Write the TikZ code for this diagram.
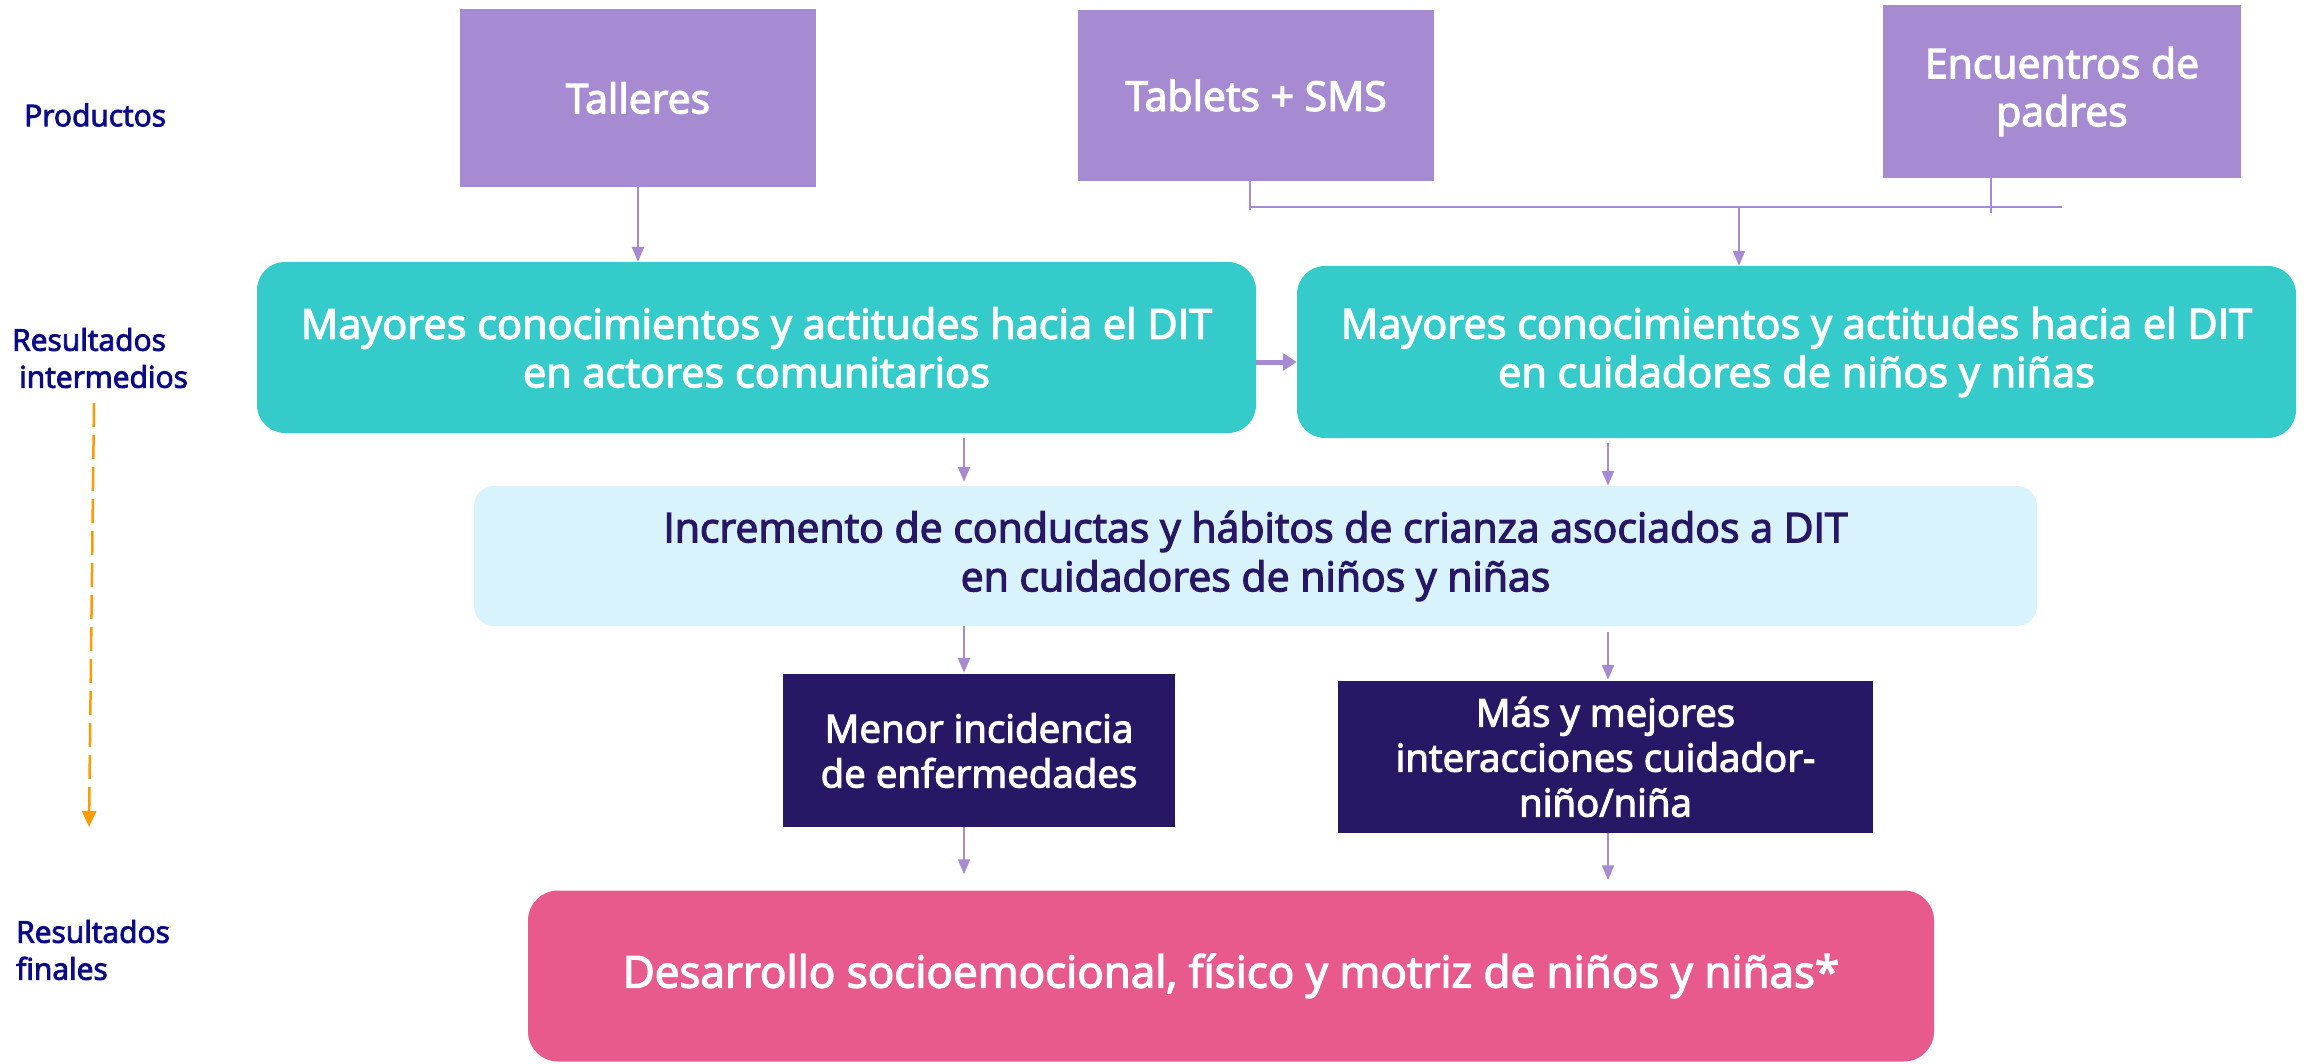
\documentclass[tikz,border=0pt]{standalone}
\usepackage{fontspec}
\setmainfont{Open Sans}[FakeBold=3]
\usetikzlibrary{arrows.meta,calc}
\definecolor{lila}{HTML}{A68BD3}
\definecolor{teal2}{HTML}{35CBCB}
\definecolor{celeste}{HTML}{D8F3FB}
\definecolor{indigo2}{HTML}{281764}
\definecolor{rosa}{HTML}{E95A8C}
\definecolor{navy2}{HTML}{0B0B85}
\definecolor{naranja}{HTML}{FF9A00}
\tikzset{
  prodbox/.style={fill=lila,draw=none,text=white,align=center,inner sep=0pt,
    font=\fontsize{41}{48}\selectfont},
  tealbox/.style={fill=teal2,draw=none,text=white,align=center,rounded corners=28pt,inner sep=0pt,
    minimum width=999pt,font=\fontsize{41.5}{48.5}\selectfont},
  lightbox/.style={fill=celeste,draw=none,text=indigo2,align=center,rounded corners=20pt,inner sep=0pt,
    font=\fontsize{41}{49}\selectfont},
  darkbox/.style={fill=indigo2,draw=none,text=white,align=center,inner sep=0pt,
    font=\fontsize{38.5}{45}\selectfont},
  pinkbox/.style={fill=rosa,draw=none,text=white,align=center,rounded corners=30pt,inner sep=0pt,
    font=\fontsize{44}{50}\selectfont},
  sidelabel/.style={text=navy2,align=left,anchor=west,inner sep=0pt,
    font=\fontsize{30}{37}\selectfont},
  arr/.style={draw=lila,line width=2.5pt,-{Triangle[length=15pt,width=12pt]}},
  bigarr/.style={draw=lila,line width=5pt,-{Triangle[length=14pt,width=17pt]}},
  joinline/.style={draw=lila,line width=2pt},
}
\begin{document}
\begin{tikzpicture}[x=1pt,y=-1pt]
\useasboundingbox (0,0) rectangle (2306,1064);
% products
\node[prodbox,minimum width=356pt,minimum height=178pt] (talleres) at (638,98) {Talleres};
\node[prodbox,minimum width=356pt,minimum height=171pt] (tablets) at (1256,95.5) {Tablets + SMS};
\node[prodbox,minimum width=358pt,minimum height=173pt] (encuentros) at (2062,91.5) {Encuentros de\\padres};
% intermediate
\node[tealbox,minimum height=171pt] (tealL) at (756.5,347.5) {Mayores conocimientos y actitudes hacia el DIT\\en actores comunitarios};
\node[tealbox,minimum height=172pt] (tealR) at (1796.5,352) {Mayores conocimientos y actitudes hacia el DIT\\en cuidadores de niños y niñas};
\node[lightbox,minimum width=1563pt,minimum height=140pt] (celeste) at (1255.5,556) {Incremento de conductas y hábitos de crianza asociados a DIT\\en cuidadores de niños y niñas};
\node[darkbox,minimum width=392pt,minimum height=153pt] (menor) at (979,750.5) {Menor incidencia\\de enfermedades};
\node[darkbox,minimum width=535pt,minimum height=152pt] (mas) at (1605.5,757) {Más y mejores\\interacciones cuidador-\\niño/niña};
\node[pinkbox,minimum width=1406pt,minimum height=171pt] (final) at (1231,976) {Desarrollo socioemocional, físico y motriz de niños y niñas*};
% side labels
\node[sidelabel] (lprod) at (24,115) {Productos};
\node[sidelabel] (linter) at (12,358) {Resultados\\\hspace*{7pt}intermedios};
\node[sidelabel] (lfinal) at (16,950) {Resultados\\finales};
% orange dashed arrow
\coordinate (oa) at (94,403);
\coordinate (ob) at (89,827);
\draw[naranja,line width=2.5pt,dash pattern=on 24pt off 8pt,-{Triangle[length=16pt,width=14pt]}] (oa) -- (ob);
% connectors
\draw[arr] (talleres.south) -- (tealL.north -| talleres.south);
\coordinate (jl) at (1250,207);
\coordinate (jr) at (2062,207);
\coordinate (jm) at (1739,207);
\coordinate (je) at (1991,207);
\draw[joinline] (tablets.south -| jl) -- ([yshift=-3pt]jl);
\draw[joinline] (jl) -- (jr);
\draw[joinline] ([yshift=6pt]encuentros.south -| je) -- ([yshift=-6pt]je);
\draw[arr] (jm) -- (tealR.north -| jm);
\coordinate (yb) at (0,362);
\draw[bigarr] (tealL.east |- yb) -- (tealR.west |- yb);
\coordinate (xa) at (964,0);
\coordinate (xb) at (1608,0);
\draw[arr,shorten <=5pt,shorten >=4pt] (tealL.south -| xa) -- (celeste.north -| xa);
\draw[arr,shorten <=5pt] (tealR.south -| xb) -- (celeste.north -| xb);
\draw[arr,shorten >=1pt] (celeste.south -| xa) -- (menor.north -| xa);
\draw[arr,shorten <=6pt,shorten >=1pt] (celeste.south -| xb) -- (mas.north -| xb);
\draw[arr,shorten >=16pt] (menor.south -| xa) -- (final.north -| xa);
\draw[arr,shorten >=10pt] (mas.south -| xb) -- (final.north -| xb);
\end{tikzpicture}
\end{document}
